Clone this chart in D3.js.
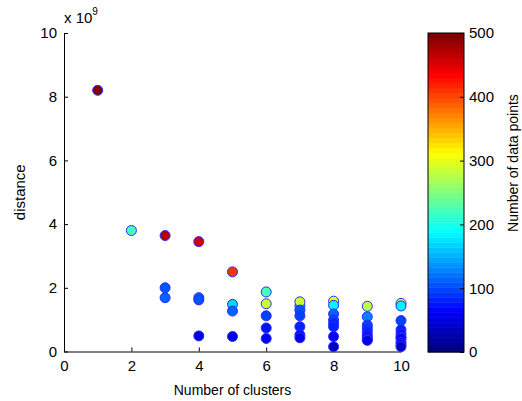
<!DOCTYPE html>
<html>
<head>
<meta charset="utf-8">
<script src="https://cdn.jsdelivr.net/npm/d3@7"></script>
<style>
  body { margin: 0; background: #fff; }
  text { font-family: "Liberation Sans", Arial, sans-serif; fill: #000; }
</style>
</head>
<body>
<div id="container"></div>
<script>
// number of clusters (x), distance in units of 1e9 (y), points in cluster (colour)
var clusters = [1, 2, 3, 3, 3, 4, 4, 4, 4, 5, 5, 5, 5,
                6, 6, 6, 6, 6,
                7, 7, 7, 7, 7, 7, 7,
                8, 8, 8, 8, 8, 8, 8, 8,
                9, 9, 9, 9, 9, 9, 9, 9, 9,
                10, 10, 10, 10, 10, 10, 10, 10, 10, 10];
var distance = [8.2, 3.8, 3.64, 2.0, 1.69, 3.45, 1.69, 1.62, 0.49, 2.5, 1.48, 1.27, 0.47,
                1.87, 1.5, 1.12, 0.74, 0.41,
                1.43, 1.56, 1.3, 1.12, 0.78, 0.52, 0.43,
                1.58, 1.45, 1.18, 0.99, 0.88, 0.78, 0.47, 0.15,
                1.42, 1.09, 0.83, 0.73, 0.62, 0.52, 0.45, 0.38, 0.35,
                1.51, 1.43, 0.97, 0.68, 0.55, 0.45, 0.41, 0.29, 0.22, 0.15];
var npoints = [500, 225, 475, 105, 110, 460, 110, 105, 50, 410, 165, 115, 55,
               220, 285, 100, 75, 60,
               175, 285, 105, 95, 85, 75, 60,
               300, 185, 110, 100, 80, 80, 65, 35,
               275, 125, 100, 90, 80, 75, 65, 55, 50,
               295, 185, 100, 80, 75, 65, 60, 55, 45, 35];

var xTicks = [0, 2, 4, 6, 8, 10];
var yTicks = [0, 2, 4, 6, 8, 10];
var cTicks = [0, 100, 200, 300, 400, 500];

var W = 522, H = 401;
var plot = {left: 64, right: 401, top: 33, bottom: 351.5};
var cbar = {left: 428, right: 464, top: 33, bottom: 352};

// MATLAB jet colormap
function jet(t) {
    t = Math.max(0, Math.min(1, t));
    function c(v) { return Math.max(0, Math.min(1, v)); }
    var r = c(Math.min(4 * t - 1.5, -4 * t + 4.5));
    var g = c(Math.min(4 * t - 0.5, -4 * t + 3.5));
    var b = c(Math.min(4 * t + 0.5, -4 * t + 2.5));
    return d3.rgb(r * 255, g * 255, b * 255).toString();
}

function drawChart() {
    var svg = d3.select("#container")
      .append("svg")
        .attr("width", W)
        .attr("height", H);

    var x = d3.scaleLinear().domain([0, 10]).range([plot.left, plot.right]);
    var y = d3.scaleLinear().domain([0, 10]).range([plot.bottom, plot.top]);
    var cScale = d3.scaleLinear().domain([0, 500]).range([cbar.bottom, cbar.top]);
    // quantise to 64 colours like the colorbar
    var colour = function(v) {
        var i = Math.min(63, Math.floor(v / 500 * 64));
        return jet(i / 63);
    };

    // axes (ticks drawn inward, no box)
    var xAxis = svg.append("g")
        .attr("transform", "translate(0," + plot.bottom + ")")
        .call(d3.axisBottom(x).tickValues(xTicks).tickSizeInner(-4).tickSizeOuter(0).tickPadding(9));
    var yAxis = svg.append("g")
        .attr("transform", "translate(" + plot.left + ",0)")
        .call(d3.axisLeft(y).tickValues(yTicks).tickSizeInner(-4).tickSizeOuter(0).tickPadding(7));

    [xAxis, yAxis].forEach(function(a) {
        a.select(".domain").attr("stroke", "#000").attr("stroke-width", 1);
        a.selectAll(".tick line").attr("stroke", "#000");
        a.selectAll(".tick text")
            .style("font-family", "'Liberation Sans', Arial, sans-serif")
            .style("font-size", "15px");
    });

    // points
    svg.append("g").selectAll("circle")
        .data(d3.range(clusters.length))
        .enter()
        .append("circle")
        .attr("cx", function(i) { return x(clusters[i]); })
        .attr("cy", function(i) { return y(distance[i]); })
        .attr("r", 5)
        .attr("fill", function(i) { return colour(npoints[i]); })
        .attr("stroke", "#2a2aff")
        .attr("stroke-width", 1);

    // exponent label
    var ex = svg.append("text")
        .attr("x", 64)
        .attr("y", 23)
        .style("font-size", "15px");
    ex.append("tspan").text("x 10");
    ex.append("tspan").attr("dy", -8).style("font-size", "10px").text("9");

    svg.append("text")
        .attr("transform", "translate(25," + (plot.top + plot.bottom) / 2 + ") rotate(-90)")
        .attr("text-anchor", "middle")
        .style("font-size", "15px")
        .text("distance");

    svg.append("text")
        .attr("x", (plot.left + plot.right) / 2)
        .attr("y", 395)
        .attr("text-anchor", "middle")
        .style("font-size", "14px")
        .text("Number of clusters");

    // colorbar: 64 bands
    var bands = d3.range(64);
    var bandH = (cbar.bottom - cbar.top) / 64;
    svg.append("g").selectAll("rect")
        .data(bands)
        .enter()
        .append("rect")
        .attr("x", cbar.left)
        .attr("width", cbar.right - cbar.left)
        .attr("y", function(i) { return cbar.bottom - (i + 1) * bandH; })
        .attr("height", bandH + 0.5)
        .attr("fill", function(i) { return jet(i / 63); });

    svg.append("rect")
        .attr("x", cbar.left)
        .attr("y", cbar.top)
        .attr("width", cbar.right - cbar.left)
        .attr("height", cbar.bottom - cbar.top)
        .attr("fill", "none")
        .attr("stroke", "#000");

    var cAxis = svg.append("g")
        .attr("transform", "translate(" + cbar.right + ",0)")
        .call(d3.axisRight(cScale).tickValues(cTicks).tickSizeInner(-4).tickSizeOuter(0).tickPadding(5));
    cAxis.select(".domain").remove();
    cAxis.selectAll(".tick line").attr("stroke", "#000");
    cAxis.selectAll(".tick text")
        .style("font-family", "'Liberation Sans', Arial, sans-serif")
        .style("font-size", "15px");

    svg.append("text")
        .attr("transform", "translate(518,163) rotate(-90)")
        .attr("text-anchor", "middle")
        .style("font-size", "14px")
        .text("Number of data points");
}

drawChart();
</script>
</body>
</html>
